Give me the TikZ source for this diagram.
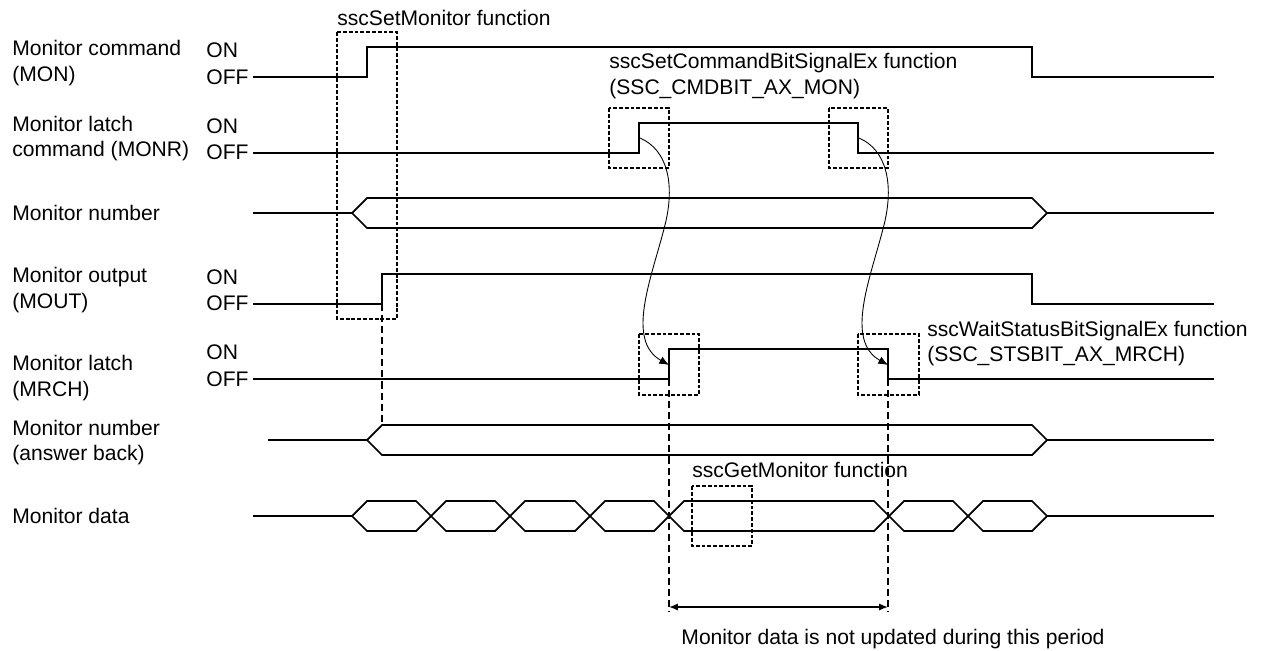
\documentclass[tikz,border=0pt]{standalone}
\usepackage{fontspec}
\setmainfont{Liberation Sans}
\usetikzlibrary{positioning, calc, arrows.meta}
\tikzset{
    sig label/.style={anchor=west, inner sep=0pt, align=left, font=\fontsize{12}{14.7}\selectfont},
    level label/.style={anchor=west, inner sep=0pt, font=\fontsize{12}{14.7}\selectfont},
    wave/.style={line width=1pt, line join=miter},
    call box/.style={draw, line width=0.6pt, dash pattern=on 2.2pt off 1.1pt},
    guide/.style={line width=0.6pt, dash pattern=on 4pt off 2.3pt},
    flow/.style={line width=0.5pt, -{Latex[length=5.5pt, width=4.5pt]}},
    span/.style={line width=0.8pt, {Latex[length=5pt, width=4pt]}-{Latex[length=5pt, width=4pt]}},
}
% one bus cell between two crossings, centred on #3
\newcommand{\buscell}[3]{
    \draw[wave] (#1,#3) -- (#1+15,#3-15) -- (#2-15,#3-15) -- (#2,#3)
        -- (#2-15,#3+15) -- (#1+15,#3+15) -- cycle;
}

\begin{document}
\begin{tikzpicture}[x={(0.02cm,0)}, y={(0,-0.02cm)}]
    \useasboundingbox (0,0) rectangle (1262,650);

    % signal names
    \node[sig label] (mon name) at (12,63) {Monitor command\\(MON)};
    \node[sig label] (monr name) at (12,138.5) {Monitor latch\\command (MONR)};
    \node[sig label] (nb name) at (12,213) {Monitor number};
    \node[sig label] (mout name) at (12,290) {Monitor output\\(MOUT)};
    \node[sig label] (mrch name) at (12,378) {Monitor latch\\(MRCH)};
    \node[sig label] (nbab name) at (12,442.5) {Monitor number\\(answer back)};
    \node[sig label] (data name) at (12,516) {Monitor data};

    % levels
    \node[level label] (mon on) at (206,50) {ON};
    \node[level label] (mon off) at (206,77) {OFF};
    \node[level label] (monr on) at (206,126) {ON};
    \node[level label] (monr off) at (206,152) {OFF};
    \node[level label] (mout on) at (206,277) {ON};
    \node[level label] (mout off) at (206,303) {OFF};
    \node[level label] (mrch on) at (206,352) {ON};
    \node[level label] (mrch off) at (206,379) {OFF};

    % waveforms
    \draw[wave] (253,77) -- (367,77) -- (367,47) -- (1032,47) -- (1032,77) -- (1214,77);
    \draw[wave] (253,153) -- (639,153) -- (639,123) -- (858,123) -- (858,153) -- (1214,153);
    \draw[wave] (253,213) -- (352,213);
    \buscell{352}{1047}{213}
    \draw[wave] (1047,213) -- (1214,213);
    \draw[wave] (253,304) -- (382,304) -- (382,274) -- (1032,274) -- (1032,304) -- (1214,304);
    \draw[wave] (253,379) -- (669,379) -- (669,349) -- (888,349) -- (888,379) -- (1214,379);
    \draw[wave] (268,440) -- (367,440);
    \buscell{367}{1047}{440}
    \draw[wave] (1047,440) -- (1214,440);
    \draw[wave] (253,516) -- (352,516);
    \foreach \a/\b in {352/431, 431/510, 510/590, 590/669, 669/889, 889/968, 968/1047}
        \buscell{\a}{\b}{516}
    \draw[wave] (1047,516) -- (1214,516);

    % function calls
    \draw[call box] (337,32) rectangle (397,319);
    \node[level label] (set mon lbl) at (337,18) {sscSetMonitor function};
    \draw[call box] (609,108) rectangle (669,168);
    \draw[call box] (829,108) rectangle (888,168);
    \node[sig label] (set cmd lbl) at (609,76) {sscSetCommandBitSignalEx function\\(SSC\_CMDBIT\_AX\_MON)};
    \draw[call box] (639,334) rectangle (699,395);
    \draw[call box] (858,334) rectangle (919,395);
    \node[sig label] (wait lbl) at (927,343.5) {sscWaitStatusBitSignalEx function\\(SSC\_STSBIT\_AX\_MRCH)};
    \draw[call box] (692,486) rectangle (752,546);
    \node[level label] (get mon lbl) at (692,470) {sscGetMonitor function};

    % edges
    \coordinate (monr up) at (640,138);
    \coordinate (monr down) at (859,138);
    \coordinate (mrch up) at (669,365);
    \coordinate (mrch down) at (888,365);
    \coordinate (mout up) at (382,304);
    \coordinate (nbab top) at (382,425);
    \coordinate (mrch up low) at (669,379);
    \coordinate (mrch down low) at (888,379);
    \coordinate (span l) at (669,612);
    \coordinate (span r) at (888,612);

    \draw[flow] (monr up) .. controls +(28,12) and +(10,-40) .. ++(25,87)
        .. controls +(-13,52) and +(-44,-25) .. (mrch up);
    \draw[flow] (monr down) .. controls +(28,12) and +(10,-40) .. ++(25,87)
        .. controls +(-13,52) and +(-44,-25) .. (mrch down);

    \draw[guide] (mout up) -- (nbab top);
    \draw[guide] (mrch up low) -- (span l);
    \draw[guide] (mrch down low) -- (span r);
    \draw[span] ($(span l)+(0,-5)$) -- ($(span r)+(0,-5)$);
    \node[level label, anchor=center] (period lbl) at (893,639) {Monitor data is not updated during this period};
\end{tikzpicture}
\end{document}
